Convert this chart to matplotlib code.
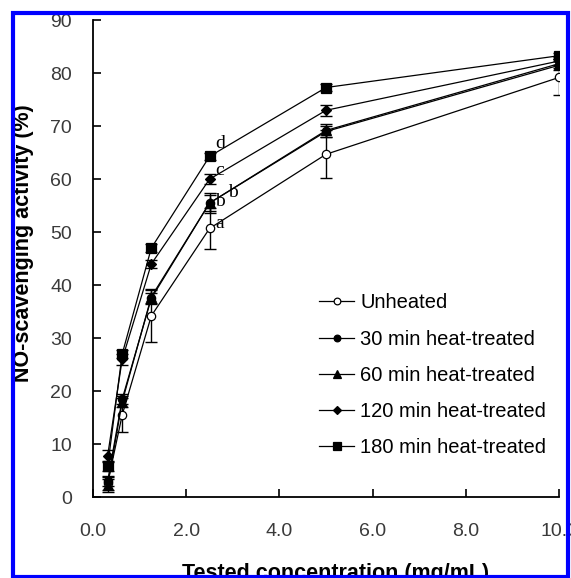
import numpy as np
import matplotlib.pyplot as plt
from matplotlib.patches import Rectangle

plt.rcParams['font.family'] = ['Liberation Sans', 'DejaVu Sans']

# data
conc = [0.3125, 0.625, 1.25, 2.5, 5.0, 10.0]
unheated = [2.6, 15.5, 34.2, 50.7, 64.7, 79.2]
unheated_err = [1.2, 3.2, 5.0, 3.8, 4.5, 3.4]
min30 = [3.0, 18.5, 37.5, 55.5, 69.0, 81.5]
min30_err = [1.0, 1.0, 1.0, 1.5, 1.0, 0.8]
min60 = [2.2, 18.0, 37.8, 55.5, 69.2, 81.8]
min60_err = [1.2, 1.0, 1.2, 1.8, 1.2, 0.8]
min120 = [7.8, 26.0, 44.0, 60.0, 73.0, 82.3]
min120_err = [1.0, 1.0, 0.8, 1.0, 1.0, 0.8]
min180 = [5.8, 27.0, 47.0, 64.3, 77.3, 83.3]
min180_err = [0.8, 0.8, 0.8, 0.6, 0.6, 0.6]
labels = ["Unheated", "30 min heat-treated", "60 min heat-treated",
          "120 min heat-treated", "180 min heat-treated"]
letters = ["a", "b", "b", "c", "d"]

fig = plt.figure(figsize=(5.71, 5.78), dpi=100)
ax = fig.add_axes([0.163, 0.140, 0.816, 0.825])

series = [
    (unheated, unheated_err, 'o', 'white'),
    (min30, min30_err, 'o', 'black'),
    (min60, min60_err, '^', 'black'),
    (min120, min120_err, 'D', 'black'),
    (min180, min180_err, 's', 'black'),
]
sizes = {'o': 6, '^': 7, 'D': 5.5, 's': 7}
for (vals, err, m, fc), lab in zip(series, labels):
    ax.errorbar(conc, vals, yerr=err, fmt='none', ecolor='black',
                capsize=4, elinewidth=1.0, capthick=1.0)
    ax.plot(conc, vals, color='black', lw=0.9, marker=m, ms=sizes[m],
            mfc=fc, mec='black', mew=0.9, label=lab)

# significance letters at 2.5 mg/mL
letter_pos = [(2.72, 51.7), (2.73, 55.7), (3.0, 57.5), (2.72, 61.7), (2.73, 66.8)]
for (lx, ly), t in zip(letter_pos, letters):
    ax.text(lx, ly, t, family='Liberation Serif', fontsize=14, ha='center', va='center')

ax.set_xlim(0, 10)
ax.set_ylim(0, 90)
ax.set_xticks(np.arange(0, 10.1, 2.0))
ax.set_xticklabels(["0.0", "2.0", "4.0", "6.0", "8.0", "10.0"])
ax.set_yticks(np.arange(0, 91, 10))
ax.spines['top'].set_visible(False)
ax.spines['right'].set_visible(False)
ax.spines['left'].set_linewidth(1.3)
ax.spines['bottom'].set_linewidth(1.3)
ax.tick_params(direction='in', length=6, width=1.2, labelsize=14, colors='black')
ax.tick_params(axis='x', pad=19)
ax.tick_params(axis='y', pad=15)
for t in ax.get_xticklabels() + ax.get_yticklabels():
    t.set_color('#3a3a3a')

ax.set_ylabel("NO-scavenging activity (%)", fontsize=15.5, fontweight='bold')
ax.yaxis.set_label_coords(-0.127, 0.532)
ax.set_xlabel("Tested concentration (mg/mL)", fontsize=15.5, fontweight='bold')
ax.xaxis.set_label_coords(0.52, -0.139, transform=ax.transAxes)
ax.xaxis.label.set_va('top')

ax.legend(loc='upper left', bbox_to_anchor=(0.485, 0.427), frameon=False,
          fontsize=14.5, handlelength=1.75, handletextpad=0.3, labelspacing=0.85,
          markerscale=0.8, borderaxespad=0, borderpad=0)

fig.patches.append(Rectangle((12.5 / 571, 1.5 / 578), (568 - 12.5) / 571, (578 - 13 - 1.5) / 578,
                             transform=fig.transFigure, fill=False,
                             edgecolor='#0000ff', lw=3, zorder=10))

plt.savefig("out.png", dpi=100)
